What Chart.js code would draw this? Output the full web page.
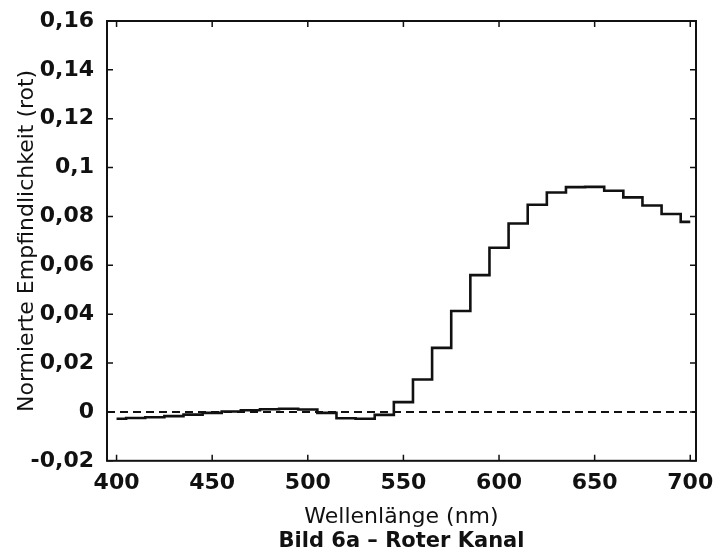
<!DOCTYPE html>
<html>
<head>
<meta charset="utf-8">
<style>
  body { margin: 0; background: #fff; }
  canvas { display: block; }
</style>
</head>
<body>
<canvas id="sensChart" width="717" height="555"></canvas>

<script src="https://cdn.jsdelivr.net/npm/chart.js@4.4.0/dist/chart.umd.min.js"></script>
<script>
    // Wellenlaengen (nm), 10 nm Raster
    const wavelengths = [400, 410, 420, 430, 440, 450, 460, 470, 480, 490, 500,
        510, 520, 530, 540, 550, 560, 570, 580, 590, 600,
        610, 620, 630, 640, 650, 660, 670, 680, 690, 700];

    // normierte Empfindlichkeit, roter Kanal
    const sensitivity = [-0.0028, -0.0025, -0.0022, -0.0017, -0.0011, -0.0004, 0.0002, 0.0007, 0.0011, 0.0013, 0.0010,
        -0.0004, -0.0026, -0.0028, -0.0012, 0.0040, 0.0133, 0.0262, 0.0413, 0.0560, 0.0672,
        0.0771, 0.0848, 0.0898, 0.0920, 0.0921, 0.0905, 0.0878, 0.0845, 0.0810, 0.0778];

    const xTicks = [400, 450, 500, 550, 600, 650, 700];
    const yTicks = [-0.02, 0, 0.02, 0.04, 0.06, 0.08, 0.1, 0.12, 0.14, 0.16];
    const baseline = 0;

    const fontFamily = '"DejaVu Sans", sans-serif';
    const ink = '#111';

    // Rahmen, Nulllinie und innenliegende Striche
    const framePlugin = {
        id: 'frame',
        beforeDatasetsDraw(chart) {
            const {ctx, chartArea: a, scales} = chart;
            const y0 = scales.y.getPixelForValue(baseline);
            ctx.save();
            ctx.strokeStyle = ink;
            ctx.lineWidth = 2;
            ctx.setLineDash([8, 5]);
            ctx.beginPath();
            ctx.moveTo(a.left, y0);
            ctx.lineTo(a.right, y0);
            ctx.stroke();
            ctx.restore();
        },
        afterDatasetsDraw(chart) {
            const {ctx, chartArea: a, scales} = chart;
            const len = 6;
            ctx.save();
            ctx.strokeStyle = ink;
            ctx.lineWidth = 2;
            ctx.strokeRect(a.left, a.top, a.right - a.left, a.bottom - a.top);
            ctx.lineWidth = 1.5;
            ctx.beginPath();
            xTicks.forEach(v => {
                const px = scales.x.getPixelForValue(v);
                ctx.moveTo(px, a.bottom); ctx.lineTo(px, a.bottom - len);
                ctx.moveTo(px, a.top); ctx.lineTo(px, a.top + len);
            });
            yTicks.forEach(v => {
                const py = scales.y.getPixelForValue(v);
                ctx.moveTo(a.left, py); ctx.lineTo(a.left + len, py);
                ctx.moveTo(a.right, py); ctx.lineTo(a.right - len, py);
            });
            ctx.stroke();
            ctx.restore();
        }
    };

    const ctx = document.getElementById('sensChart').getContext('2d');
    new Chart(ctx, {
        type: 'line',
        data: {
            datasets: [{
                data: wavelengths.map((w, i) => ({x: w, y: sensitivity[i]})),
                stepped: 'middle',
                borderColor: ink,
                borderWidth: 2.6,
                pointRadius: 0,
                fill: false
            }]
        },
        options: {
            responsive: false,
            animation: false,
            layout: {
                padding: {top: 21, right: 21, bottom: 0, left: 0}
            },
            scales: {
                x: {
                    type: 'linear',
                    min: 395,
                    max: 703,
                    afterFit: s => { s.height = 68; },
                    grid: {display: false},
                    border: {display: false},
                    ticks: {
                        stepSize: 50,
                        includeBounds: false,
                        padding: 1,
                        color: ink,
                        font: {family: fontFamily, size: 22, weight: 'bold'},
                        callback: v => String(v)
                    },
                    title: {
                        display: true,
                        text: 'Wellenlänge (nm)',
                        color: ink,
                        font: {family: fontFamily, size: 22, lineHeight: 1},
                        padding: {top: 0, bottom: 1}
                    }
                },
                y: {
                    min: -0.02,
                    max: 0.16,
                    afterFit: s => { s.width = 107; },
                    grid: {display: false},
                    border: {display: false},
                    ticks: {
                        stepSize: 0.02,
                        padding: 5,
                        color: ink,
                        font: {family: fontFamily, size: 22, weight: 'bold'},
                        callback: v => String(Math.round(v * 100) / 100).replace('.', ',')
                    },
                    title: {
                        display: true,
                        text: 'Normierte Empfindlichkeit (rot)',
                        color: ink,
                        font: {family: fontFamily, size: 22},
                        padding: {top: 14, bottom: 0}
                    }
                }
            },
            plugins: {
                legend: {display: false},
                tooltip: {enabled: false},
                subtitle: {
                    display: true,
                    position: 'bottom',
                    fullSize: false,
                    text: 'Bild 6a – Roter Kanal',
                    color: ink,
                    font: {family: fontFamily, size: 21, weight: 'bold'},
                    padding: {top: 0, bottom: 1}
                }
            }
        },
        plugins: [framePlugin]
    });
</script>
</body>
</html>
